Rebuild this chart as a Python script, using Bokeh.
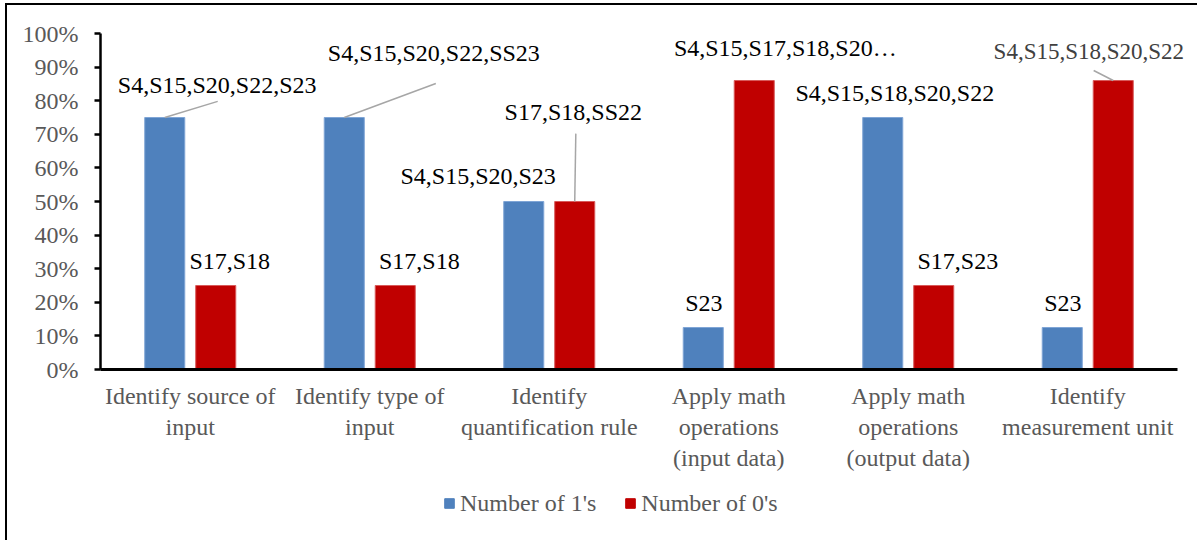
from bokeh.plotting import figure
from bokeh.layouts import column
from bokeh.models import (Range1d, FixedTicker, ColumnDataSource, Legend, LegendItem,
                          PrintfTickFormatter, Label)
from bokeh.embed import file_html
from bokeh.resources import INLINE

# ---------------- data ----------------
categories = [
    "Identify source of\ninput",
    "Identify type of\ninput",
    "Identify\nquantification rule",
    "Apply math\noperations\n(input data)",
    "Apply math\noperations\n(output data)",
    "Identify\nmeasurement unit",
]
series_names = ["Number of 1's", "Number of 0's"]
ones = [75, 75, 50, 12.5, 75, 12.5]          # Number of 1's (%)
zeros = [25, 25, 50, 86, 25, 86]             # Number of 0's (%)
ones_labels = ["S4,S15,S20,S22,S23", "S4,S15,S20,S22,SS23", "S4,S15,S20,S23",
               "S23", "S4,S15,S18,S20,S22", "S23"]
zeros_labels = ["S17,S18", "S17,S18", "S17,S18,SS22",
                "S4,S15,S17,S18,S20\u2026", "S17,S23", "S4,S15,S18,S20,S22"]
y_ticks = [0, 10, 20, 30, 40, 50, 60, 70, 80, 90, 100]

# ---------------- label placement (layout) ----------------
ones_label_dx = [0.150, 0.357, -0.396, -0.139, -0.075, -0.139]
ones_label_y = [84.8, 94.3, 57.7, 19.9, 82.3, 19.9]
zeros_label_dx = [0.220, 0.276, 0.134, 0.315, 0.276, 0.006]
zeros_label_y = [32.4, 32.4, 76.5, 95.7, 32.4, 94.6]
# leader lines: (series, category index, end dx, end y)
leaders = [("ones", 0, 0.153, 79.8), ("ones", 1, 0.368, 85.1),
           ("zeros", 2, 0.148, 70.2), ("zeros", 5, 0.033, 89.0)]

BLUE = "#4F81BD"
RED = "#C00000"
OFF = 0.142
BW = 0.223
FONT = "Liberation Serif"

n = len(categories)
centers = [i + 0.5 for i in range(n)]

FIG_W = 1190
LEFT = 93
CAT_PX = 179.5
x_end = (FIG_W - LEFT) / CAT_PX   # frame runs past the last category for the labels

p = figure(width=FIG_W, height=483, output_backend="svg", toolbar_location=None,
           x_range=Range1d(0, x_end), y_range=Range1d(0, 100),
           min_border_left=LEFT, min_border_right=0, min_border_top=28,
           min_border_bottom=119)
p.xgrid.visible = False
p.ygrid.visible = False
p.outline_line_color = None
p.background_fill_color = "white"
p.border_fill_color = "white"

src1 = ColumnDataSource(dict(x=[c - OFF for c in centers], top=ones))
src0 = ColumnDataSource(dict(x=[c + OFF for c in centers], top=zeros))
r1 = p.vbar(x="x", top="top", width=BW, bottom=0, source=src1,
            fill_color=BLUE, line_color="#7FA5D6", line_width=1)
r0 = p.vbar(x="x", top="top", width=BW, bottom=0, source=src0,
            fill_color=RED, line_color="#D85A5A", line_width=1)

# leader lines
lx0, ly0, lx1, ly1 = [], [], [], []
for series, i, dx, ey in leaders:
    if series == "ones":
        lx0.append(centers[i] - OFF); ly0.append(ones[i])
    else:
        lx0.append(centers[i] + OFF); ly0.append(zeros[i])
    lx1.append(centers[i] + dx); ly1.append(ey)
p.segment(x0=lx0, y0=ly0, x1=lx1, y1=ly1, line_color="#A6A6A6", line_width=1.5)

# data labels
for i in range(n):
    p.add_layout(Label(x=centers[i] + ones_label_dx[i], y=ones_label_y[i],
                       text=ones_labels[i], text_font=FONT,
                       text_font_size="24px", text_color="black",
                       text_align="center", text_baseline="middle"))
    last = (i == n - 1)
    p.add_layout(Label(x=centers[i] + zeros_label_dx[i], y=zeros_label_y[i],
                       text=zeros_labels[i], text_font=FONT,
                       text_font_size="23px" if last else "24px",
                       text_color="#404040" if last else "black",
                       text_align="center", text_baseline="middle"))

# axes
p.xaxis.ticker = FixedTicker(ticks=centers)
p.xaxis.bounds = (0, n)
p.xaxis.major_label_overrides = {c: lab for c, lab in zip(centers, categories)}
p.xaxis.major_tick_line_color = None
p.xaxis.minor_tick_line_color = None
p.xaxis.axis_line_color = "black"
p.xaxis.axis_line_width = 3
p.xaxis.major_label_text_font = FONT
p.xaxis.major_label_text_font_size = "24px"
p.xaxis.major_label_text_color = "#595959"
p.xaxis.major_label_standoff = 7

p.yaxis.ticker = FixedTicker(ticks=y_ticks)
p.yaxis.formatter = PrintfTickFormatter(format="%d%%")
p.yaxis.minor_tick_line_color = None
p.yaxis.major_tick_in = 0
p.yaxis.major_tick_out = 6
p.yaxis.major_tick_line_width = 2.5
p.yaxis.major_tick_line_color = "black"
p.yaxis.axis_line_color = "black"
p.yaxis.axis_line_width = 2.5
p.yaxis.major_label_text_font = FONT
p.yaxis.major_label_text_font_size = "24px"
p.yaxis.major_label_text_color = "#595959"
p.yaxis.major_label_standoff = 16

# legend strip below the chart
pl = figure(width=FIG_W, height=52, output_backend="svg", toolbar_location=None,
            x_range=Range1d(0, 1), y_range=Range1d(0, 1),
            x_axis_type=None, y_axis_type=None,
            min_border_left=0, min_border_right=0, min_border_top=0,
            min_border_bottom=0)
pl.xgrid.visible = False
pl.ygrid.visible = False
pl.outline_line_color = None
# off-range swatch renderers (only their legend glyphs are seen)
lr1 = pl.vbar(x=[-5], top=[0], width=0.1, fill_color=BLUE, line_color=BLUE)
lr0 = pl.vbar(x=[-5], top=[0], width=0.1, fill_color=RED, line_color=RED)
legend = Legend(items=[LegendItem(label=series_names[0], renderers=[lr1]),
                       LegendItem(label=series_names[1], renderers=[lr0])],
                orientation="horizontal", location=(343, 23),
                glyph_width=12, glyph_height=12, label_standoff=5, spacing=28,
                padding=0, margin=0, border_line_color=None,
                background_fill_alpha=0,
                label_text_font=FONT, label_text_font_size="24px",
                label_text_color="#595959", label_height=28)
pl.add_layout(legend, "center")

layout = column(p, pl, styles={"border-left": "2px solid black",
                               "border-top": "2px solid black",
                               "margin-left": "5px", "margin-top": "3px"})
open("out.html", "w").write(file_html(layout, INLINE))
